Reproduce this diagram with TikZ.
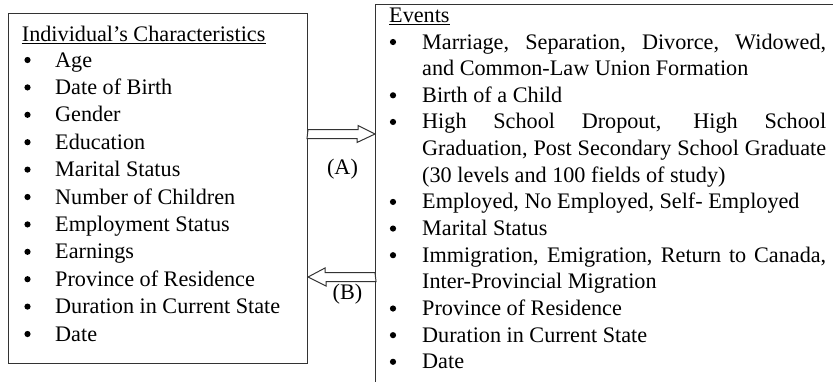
\documentclass[tikz,border=0pt]{standalone}
\usepackage{fontspec}
\setmainfont{Liberation Serif}
\begin{document}
\begin{tikzpicture}[x=1pt,y=-1pt,
  txt/.style={anchor=base west, inner sep=0pt, font=\fontsize{22.2}{26}\selectfont, text=black},
  bul/.style={circle, fill=black, inner sep=0pt, minimum size=6.2pt, yshift=7pt},
  lbl/.style={anchor=center, inner sep=0pt, font=\fontsize{22.2}{26}\selectfont, text=black},
  box/.style={draw=black!80, line width=1pt},
  uline/.style={draw=black, line width=0.8pt},
  blockarrow/.style={draw=black!80, line width=1pt, fill=white, line join=miter}]
\useasboundingbox (0,0) rectangle (833,381);

% left box
\node[box, anchor=north west, minimum width=299pt, minimum height=350pt, inner sep=0pt] (L) at (8,13) {};

% right (open) box
\coordinate (Rtop) at (836,4);
\coordinate (Rcorner) at (375,4);
\coordinate (Rbot) at (375,384);
\draw[box] (Rtop) -- (Rcorner) -- (Rbot);

% left texts
\node[txt] (Ltitle) at (21.7,41) {Individual’s Characteristics};
\draw[uline] ([yshift=-2.5pt]Ltitle.base west) -- ([yshift=-2.5pt]Ltitle.base east);
\foreach \t [count=\i from 0] in {Age, Date of Birth, Gender, Education, Marital Status, Number of Children, Employment Status, Earnings, Province of Residence, Duration in Current State, Date} {
  \node[bul] (Lb\i) at (27.5,{67+27.4*\i}) {};
  \node[txt] (Lt\i) at (55,{67+27.4*\i}) {\t};
}

% right texts
\node[txt] (Rtitle) at (389,22) {Events};
\draw[uline] ([yshift=-2.5pt]Rtitle.base west) -- ([yshift=-2.5pt]Rtitle.base east);
\def\rx{422}
\def\ry#1{{49+26.65*#1}}
\node[bul] (Rb0) at (393,\ry{0}) {};
\node[txt] (Rt0) at (\rx,\ry{0}) {\makebox[404pt][s]{Marriage, Separation, Divorce, Widowed,}};
\node[txt] (Rt1) at (\rx,\ry{1}) {and Common-Law Union Formation};
\node[bul] (Rb2) at (393,\ry{2}) {};
\node[txt] (Rt2) at (\rx,\ry{2}) {Birth of a Child};
\node[bul] (Rb3) at (393,\ry{3}) {};
\node[txt] (Rt3) at (\rx,\ry{3}) {\makebox[404pt][s]{High School Dropout, High School}};
\node[txt] (Rt4) at (\rx,\ry{4}) {\makebox[404pt][s]{Graduation, Post Secondary School Graduate}};
\node[txt] (Rt5) at (\rx,\ry{5}) {(30 levels and 100 fields of study)};
\node[bul] (Rb6) at (393,\ry{6}) {};
\node[txt] (Rt6) at (\rx,\ry{6}) {Employed, No Employed, Self- Employed};
\node[bul] (Rb7) at (393,\ry{7}) {};
\node[txt] (Rt7) at (\rx,\ry{7}) {Marital Status};
\node[bul] (Rb8) at (393,\ry{8}) {};
\node[txt] (Rt8) at (\rx,\ry{8}) {\makebox[404pt][s]{Immigration, Emigration, Return to Canada,}};
\node[txt] (Rt9) at (\rx,\ry{9}) {Inter-Provincial Migration};
\node[bul] (Rb10) at (393,\ry{10}) {};
\node[txt] (Rt10) at (\rx,\ry{10}) {Province of Residence};
\node[bul] (Rb11) at (393,\ry{11}) {};
\node[txt] (Rt11) at (\rx,\ry{11}) {Duration in Current State};
\node[bul] (Rb12) at (393,\ry{12}) {};
\node[txt] (Rt12) at (\rx,\ry{12}) {Date};

% arrow A (left box -> events)
\coordinate (Atail) at (L.east |- 0,134);
\coordinate (Atip) at (Rcorner |- 0,134);
\draw[blockarrow] (Atail) ++(0,-4.5) -- ++(50,0) -- ++(0,-4) -- (Atip) -- ++(-18,8.5) -- ++(0,-4) -- ++(-50,0) -- cycle;
\node[lbl] (Albl) at (342.5,169) {(A)};

% arrow B (events -> left box)
\coordinate (Btail) at (Rcorner |- 0,277);
\coordinate (Btip) at (L.east |- 0,277);
\draw[blockarrow] (Btail) ++(0,-4.5) -- ++(-50,0) -- ++(0,-4.5) -- (Btip) -- ++(18,9) -- ++(0,-4.5) -- ++(50,0) -- cycle;
\node[lbl] (Blbl) at (347.5,294) {(B)};
\end{tikzpicture}
\end{document}
